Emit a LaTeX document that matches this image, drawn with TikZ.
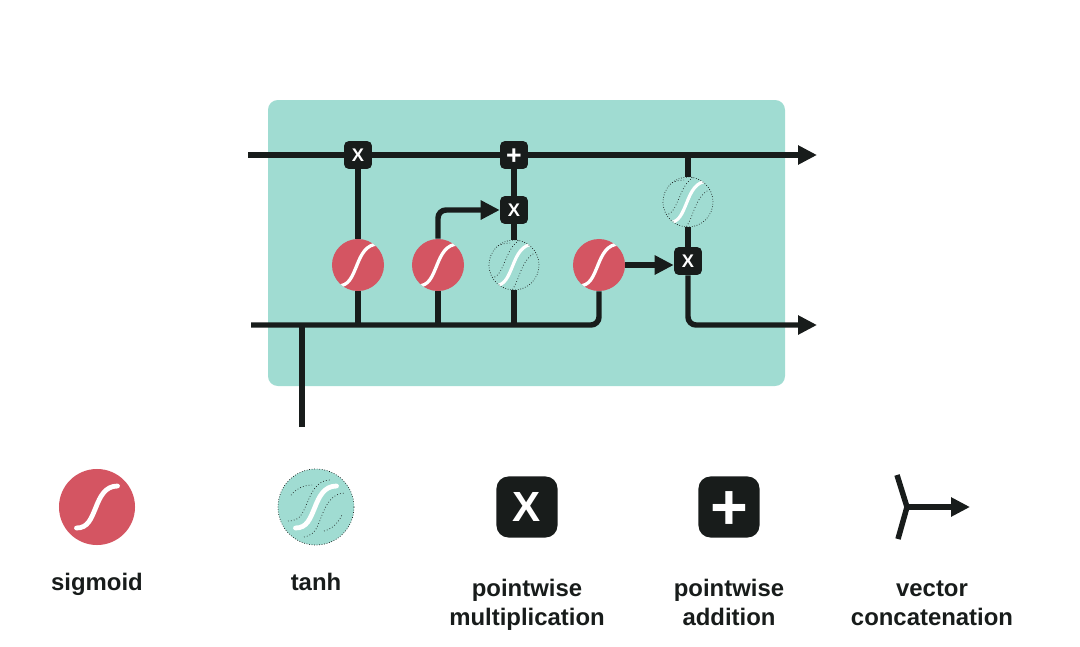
\documentclass[tikz,border=0pt]{standalone}
\usepackage{fontspec}
\setmainfont{Liberation Sans}
\usepackage{tikz}
\usetikzlibrary{arrows.meta,positioning,calc}
\definecolor{cellteal}{RGB}{160,220,210}
\definecolor{gatered}{RGB}{212,85,98}
\definecolor{opblack}{RGB}{24,28,27}

\begin{document}
\begin{tikzpicture}[x=0.025cm, y=-0.025cm,
        >={Triangle[length=13.5pt,width=13pt]},
        flow/.style={draw=opblack, line width=3.9pt},
        gate/.style={circle, fill=gatered, inner sep=0pt, minimum size=#1*0.05cm,
            path picture={\draw[white, line width=#1*0.09pt, line cap=round,
                shift={(path picture bounding box.center)}, scale=#1/38]
                (-20.5,21) .. controls (-9,21) and (-6,12) .. (-1,0)
                .. controls (3,-10) and (8,-21) .. (20.5,-21);}},
        layer/.style={circle, fill=cellteal, inner sep=0pt, minimum size=#1*0.05cm,
            draw=opblack, line width=0.5pt, dash pattern=on 0.5pt off 1.3pt,
            path picture={
                \draw[opblack, line width=0.5pt, dash pattern=on 0.5pt off 1.6pt,
                    shift={(path picture bounding box.center)}, scale=#1/38]
                    (-28,14) .. controls (-14,14) and (-13,4) .. (-8,-6)
                    .. controls (-4,-16) and (2,-27) .. (14,-27)
                    (-12,30) .. controls (0,28) and (2,18) .. (6,8)
                    .. controls (10,-2) and (16,-14) .. (29,-14)
                    (-25,-12) .. controls (-18,-20) and (-10,-22) .. (-4,-22)
                    (8,24) .. controls (16,22) and (22,16) .. (26,8);
                \draw[white, solid, line width=#1*0.09pt, line cap=round,
                    shift={(path picture bounding box.center)}, scale=#1/38]
                    (-20.5,21) .. controls (-9,21) and (-6,12) .. (-1,0)
                    .. controls (3,-10) and (8,-21) .. (20.5,-21);}},
        op/.style={fill=opblack, text=white, inner sep=0pt, minimum size=19.9pt,
            rounded corners=3.5pt, font=\fontsize{13}{13}\selectfont\bfseries},
        bigop/.style={op, minimum size=43.4pt, rounded corners=8.5pt,
            font=\fontsize{30}{30}\selectfont\bfseries},
        plustext/.style={text=white, inner sep=0pt, font=\fontsize{#1}{#1}\selectfont\bfseries},
        legend/.style={text=opblack, align=center, anchor=base,
            font=\fontsize{17}{20.6}\selectfont\bfseries}
    ]
            \useasboundingbox (0,0) rectangle (1080,646);
            \fill[cellteal, rounded corners=7pt] (268,100) rectangle (785,386);

            \node[op] (fx) at (358,155) {X};
            \node[op, label={[plustext=19, yshift=-1.2pt]center:+}] (ad) at (514,155) {};
            \node[op] (ix) at (514,210) {X};
            \node[op] (ox) at (688,261) {X};
            \node[gate=26] (sf) at (358,265) {};
            \node[gate=26] (si) at (438,265) {};
            \node[layer=25] (tc) at (514,265) {};
            \node[gate=26] (so) at (599,265) {};
            \node[layer=25] (th) at (688,202) {};
            \coordinate (cin) at (248,155);
            \coordinate (cout) at (817,155);
            \coordinate (hin) at (251,325);
            \coordinate (hout) at (817,325);
            \coordinate (xin) at (302,427);

            \draw[flow]
                (cin) -- (fx)
                (fx) -- (ad)
            ;
            \draw[flow,->] (ad) -- (cout);
            \draw[flow]
                (sf) -- (fx)
                (ix) -- (ad)
                (tc) -- (ix)
                (th) -- (ox)
                (th) -- (th |- cin)
                (sf) -- (sf |- hin)
                (si) -- (si |- hin)
                (tc) -- (tc |- hin)
                (xin) -- (xin |- hin)
            ;
            \draw[flow, rounded corners=5.7pt] (hin) -| (so);
            \draw[flow, ->, rounded corners=5.7pt] (si) |- (ix);
            \draw[flow, ->] (so) -- (so -| ox.west);
            \draw[flow, ->, rounded corners=5.7pt] (ox) |- (hout);

            \node[gate=38] (lsig) at (97,507) {};
            \node[layer=38] (ltanh) at (316,507) {};
            \node[bigop] (lmul) at (527,507) {X};
            \node[bigop, label={[plustext=46, yshift=-2.85pt]center:+}] (ladd) at (729,507) {};
            \coordinate (cj) at (907,507);
            \coordinate (ca) at (897,475);
            \coordinate (cb) at (898,539);
            \coordinate (ce) at (970,507);
            \draw[flow] (ca) -- (cj) -- (cb);
            \draw[flow, ->] (cj) -- (ce);

            \node[legend] (tsig) at (97,590) {sigmoid};
            \node[legend] (ttanh) at (316,590) {tanh};
            \node[legend] (tmul) at (527,625) {pointwise\\multiplication};
            \node[legend] (tadd) at (729,625) {pointwise\\addition};
            \node[legend] (tcat) at (932,625) {vector\\concatenation};
        \end{tikzpicture}
\end{document}
